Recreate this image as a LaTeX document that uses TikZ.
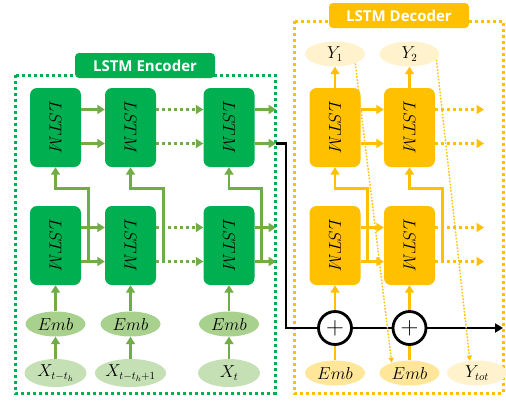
\documentclass[tikz,border=0pt]{standalone}
\usepackage{fontspec}
\newfontfamily\titlefont{Open Sans}
\usetikzlibrary{arrows.meta,shapes.geometric,calc}
\definecolor{gdark}{HTML}{00B050}
\definecolor{garrow}{HTML}{70AD47}
\definecolor{gemb}{HTML}{A9D18E}
\definecolor{gx}{HTML}{C5E0B4}
\definecolor{ydark}{HTML}{FFC000}
\definecolor{yemb}{HTML}{FFE699}
\definecolor{yout}{HTML}{FFF2CC}
\tikzset{
  lstmbox/.style={rounded corners=7pt, minimum width=51pt, minimum height=79pt, inner sep=0pt},
  enc/.style={lstmbox, fill=gdark},
  dec/.style={lstmbox, fill=ydark},
  ell/.style={ellipse, minimum width=60pt, minimum height=25pt, inner sep=0pt, font=\fontsize{16}{16}\selectfont},
  garr/.style={draw=garrow, line width=2.8pt, -{Triangle[length=7.5pt,width=9pt]}},
  gdot/.style={garr, dash pattern=on 3pt off 3pt},
  yarr/.style={draw=ydark, line width=2.8pt, -{Triangle[length=7.5pt,width=9pt]}},
  yline/.style={draw=ydark, line width=2.8pt},
  ydot/.style={yarr, dash pattern=on 3pt off 3pt},
  ythin/.style={draw=ydark, line width=1.4pt, dash pattern=on 1.6pt off 1.6pt, -{Triangle[length=5pt,width=5pt]}},
  frame/.style={line width=3pt, dash pattern=on 3pt off 3pt},
  titlebox/.style={rounded corners=4pt, minimum width=140pt, minimum height=25pt, inner sep=0pt, text=white, font=\titlefont\bfseries\fontsize{15}{15}\selectfont},
  plus/.style={circle, draw=black, line width=2.8pt, fill=white, minimum size=33pt, inner sep=0pt, font=\fontsize{26}{26}\selectfont}
}
\newcommand{\lstmlabel}{\rotatebox{-90}{\fontsize{17}{17}\selectfont$LSTM$}}
\begin{document}
\begin{tikzpicture}[x=1pt,y=-1pt]
\useasboundingbox (0,0) rectangle (506,408);
% frames
\draw[frame, draw=gdark] (15,75) rectangle (275,393);
\draw[frame, draw=ydark] (294,21) rectangle (503,393);
\node[titlebox, fill=gdark] (etitle) at (145,65.5) {LSTM Encoder};
\node[titlebox, fill=ydark] (dtitle) at (399,15.5) {LSTM Decoder};

% encoder nodes
\node[enc] (et1) at (55.5,127.5) {\lstmlabel};
\node[enc] (et2) at (130.5,127.5) {\lstmlabel};
\node[enc] (et3) at (229,127.5) {\lstmlabel};
\node[enc] (eb1) at (55.5,245.5) {\lstmlabel};
\node[enc] (eb2) at (130.5,245.5) {\lstmlabel};
\node[enc] (eb3) at (229,245.5) {\lstmlabel};
\node[ell, fill=gemb] (ee1) at (55.5,324) {$Emb$};
\node[ell, fill=gemb] (ee2) at (130.5,324) {$Emb$};
\node[ell, fill=gemb] (ee3) at (229,324) {$Emb$};
\node[ell, fill=gx, minimum width=62pt, minimum height=28pt] (ex1) at (55.5,373) {$X_{t-t_h}$};
\node[ell, fill=gx, minimum width=62pt, minimum height=28pt] (ex2) at (130.5,373) {$X_{t-t_h+1}$};
\node[ell, fill=gx, minimum width=62pt, minimum height=28pt] (ex3) at (229,373) {$X_t$};

% encoder arrows
\foreach \i in {1,2,3} {
  \draw[garr] (ex\i) -- (ee\i);
  \draw[garr] (ee\i) -- (eb\i);
}
\foreach \r in {t,b} {
  \draw[garr] ($(e\r1.east)+(0,-18)$) -- ($(e\r2.west)+(0,-18)$);
  \draw[garr] ($(e\r1.east)+(0,16)$) -- ($(e\r2.west)+(0,16)$);
  \draw[gdot] ($(e\r2.east)+(0,-18)$) -- ($(e\r3.west)+(0,-18)$);
  \draw[gdot] ($(e\r2.east)+(0,16)$) -- ($(e\r3.west)+(0,16)$);
}
\coordinate (eot1) at (276,109.5);
\coordinate (eot2) at (276,143.5);
\coordinate (eob1) at (276,227.5);
\coordinate (eob2) at (276,261.5);
\draw[garr] ($(et3.east)+(0,-18)$) -- (eot1);
\draw[garr] ($(et3.east)+(0,16)$) -- (eot2);
\draw[garr] ($(eb3.east)+(0,-18)$) -- (eob1);
\draw[garr] ($(eb3.east)+(0,16)$) -- (eob2);
\foreach \i in {1,2,3} {
  \draw[garr] ($(eb\i.east)+(7,16)$) |- ($(et\i.south)+(0,21)$) -- (et\i.south);
}

% decoder nodes
\node[dec] (dt1) at (335,127.5) {\lstmlabel};
\node[dec] (dt2) at (409.5,127.5) {\lstmlabel};
\node[dec] (db1) at (335,245.5) {\lstmlabel};
\node[dec] (db2) at (409.5,245.5) {\lstmlabel};
\node[ell, fill=yout] (y1) at (335,54) {$Y_1$};
\node[ell, fill=yout] (y2) at (409.5,54) {$Y_2$};
\node[ell, fill=yemb] (de1) at (335,373) {$Emb$};
\node[ell, fill=yemb] (de2) at (409.5,373) {$Emb$};
\node[ell, fill=yout] (ytot) at (477,373) {$Y_{tot}$};

% black path
\coordinate (bturn) at (286,328);
\coordinate (bend) at (503,328);
\draw[line width=2.8pt, -{Triangle[length=8pt,width=9pt]}] (eot2) -| (bturn) -- (bend);
\node[plus] (p1) at (335,328) {$+$};
\node[plus] (p2) at (409.5,328) {$+$};

% decoder arrows
\foreach \i in {1,2} {
  \draw[yline] (de\i) -- (p\i);
  \draw[yarr] (p\i) -- (db\i);
  \draw[yarr] (dt\i) -- (y\i);
  \draw[yarr] ($(db\i.east)+(7,16)$) |- ($(dt\i.south)+(0,21)$) -- (dt\i.south);
}
\foreach \r in {t,b} {
  \draw[yarr] ($(d\r1.east)+(0,-18)$) -- ($(d\r2.west)+(0,-18)$);
  \draw[yarr] ($(d\r1.east)+(0,16)$) -- ($(d\r2.west)+(0,16)$);
}
\coordinate (dot1) at (484,109.5);
\coordinate (dot2) at (484,143.5);
\coordinate (dob1) at (484,227.5);
\coordinate (dob2) at (484,261.5);
\draw[ydot] ($(dt2.east)+(0,-18)$) -- (dot1);
\draw[ydot] ($(dt2.east)+(0,16)$) -- (dot2);
\draw[ydot] ($(db2.east)+(0,-18)$) -- (dob1);
\draw[ydot] ($(db2.east)+(0,16)$) -- (dob2);
\draw[ythin] (y1.-25) -- (de2.150);
\draw[ythin] (y2.-12) -- (ytot.120);
\end{tikzpicture}
\end{document}
